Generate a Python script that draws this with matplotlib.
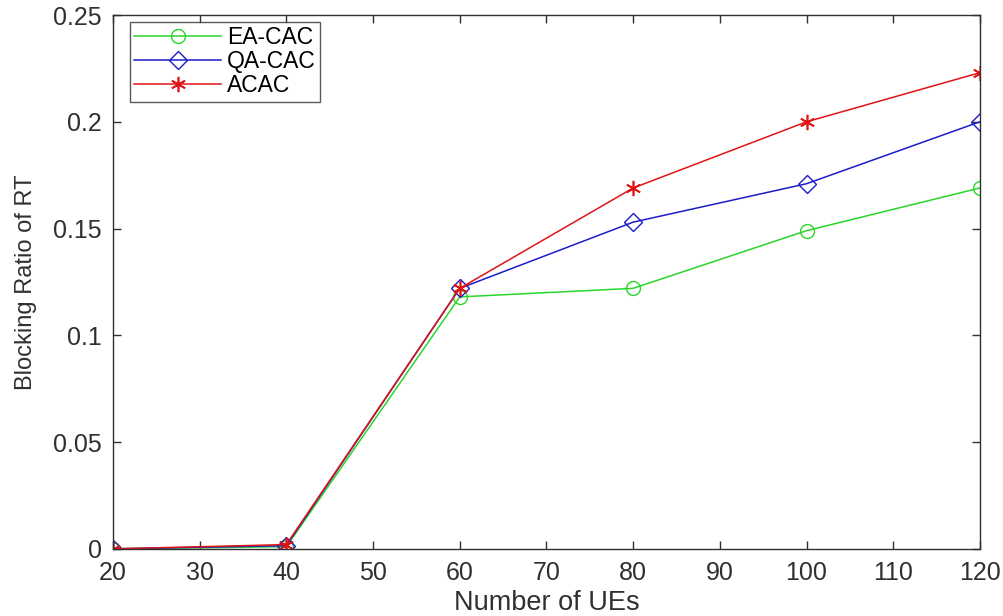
import matplotlib
matplotlib.use("Agg")
import matplotlib.pyplot as plt

x_ues = [20, 40, 60, 80, 100, 120]
ea_cac = [0.0, 0.001, 0.118, 0.122, 0.149, 0.169]
qa_cac = [0.0, 0.0015, 0.122, 0.153, 0.171, 0.200]
acac = [0.0, 0.002, 0.122, 0.169, 0.200, 0.223]
x_ticks = [20, 30, 40, 50, 60, 70, 80, 90, 100, 110, 120]
y_ticks = [0, 0.05, 0.1, 0.15, 0.2, 0.25]
y_tick_labels = ["0", "0.05", "0.1", "0.15", "0.2", "0.25"]

plt.rcParams['font.family'] = ['Liberation Sans', 'DejaVu Sans']

fig = plt.figure(figsize=(10.04, 6.16), dpi=100)
ax = fig.add_axes([0.1125, 0.109, 0.8635, 0.8666])

ax.plot(x_ues, ea_cac, color='#2ad62a', lw=1.1, marker='o', ms=10,
        mfc='none', mec='#2ad62a', mew=1.0, label='EA-CAC')
ax.plot(x_ues, qa_cac, color='#1c1cc8', lw=1.1, marker='D', ms=9,
        mfc='none', mec='#1c1cc8', mew=1.0, label='QA-CAC')
ax.plot(x_ues, acac, color='#e01414', lw=1.1, marker=(6, 2, 0), ms=11,
        mec='#e01414', mew=1.2, label='ACAC')

ax.set_xlim(20, 120)
ax.set_ylim(0, 0.25)
ax.set_xticks(x_ticks)
ax.set_yticks(y_ticks)
ax.set_yticklabels(y_tick_labels)
ax.tick_params(direction='in', top=True, right=True, length=6, width=1,
               labelsize=18, colors='#303030')
ax.tick_params(axis='x', pad=8.5)
ax.tick_params(axis='y', pad=8)
for s in ax.spines.values():
    s.set_color('#303030')
    s.set_linewidth(1.0)

ax.set_xlabel('Number of UEs', fontsize=19.5, color='#303030', labelpad=3.5)
ax.set_ylabel('Blocking Ratio of RT', fontsize=17, color='#303030', labelpad=11.5)

leg = ax.legend(loc='upper left', bbox_to_anchor=(0.0196, 0.987),
                borderaxespad=0, fontsize=16.5, frameon=True, fancybox=False,
                edgecolor='#303030', borderpad=0.18, labelspacing=0.05,
                handlelength=3.8, handletextpad=0.25)
leg.get_frame().set_linewidth(1.0)

fig.savefig('out.png', dpi=100)
